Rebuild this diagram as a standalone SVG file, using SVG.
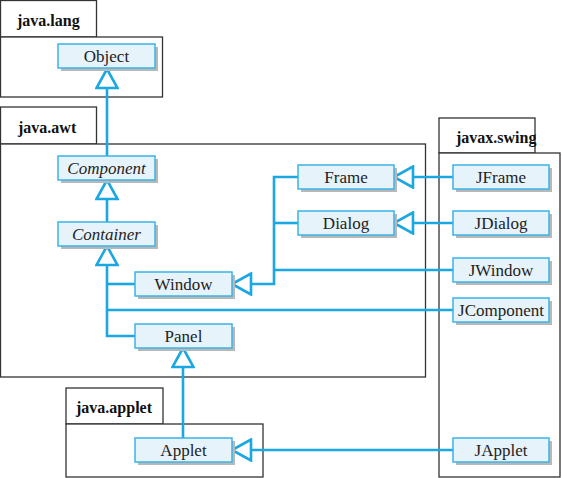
<svg xmlns="http://www.w3.org/2000/svg" width="562" height="478" viewBox="0 0 562 478">
<style>
.pkg{fill:#fff;stroke:#333;stroke-width:1.3}
.pl{font-family:"Liberation Serif","Times New Roman",Times,serif;font-weight:bold;font-size:16px;fill:#111}
.sh{fill:#b8b8b8}
.bx{fill:#e6f3fb;stroke:#3ab4e6;stroke-width:1.5}
.t{font-family:"Liberation Serif","Times New Roman",Times,serif;font-size:17px;fill:#222;text-anchor:middle}
.i{font-style:italic}
.c{fill:none;stroke:#1ba7e2;stroke-width:2.6}
</style>
<defs>
<marker id="tri" viewBox="0 0 22 24" refX="21" refY="12" markerWidth="22" markerHeight="24" markerUnits="userSpaceOnUse" orient="auto">
<path d="M21,12 L2,1.5 L2,22.5 Z" fill="#fff" stroke="#1ba7e2" stroke-width="2.6" stroke-linejoin="miter"/>
</marker>
</defs>
<g id="packages">
<g id="pkg-java-lang"><rect class="pkg" x="0.5" y="0.5" width="96" height="36.5"/><rect class="pkg" x="0.5" y="37" width="162" height="60"/><text class="pl" x="17" y="26">java.lang</text></g>
<g id="pkg-java-awt"><rect class="pkg" x="0.5" y="107" width="96" height="37"/><rect class="pkg" x="0.5" y="144" width="425" height="233"/><text class="pl" x="18" y="133">java.awt</text></g>
<g id="pkg-javax-swing"><rect class="pkg" x="439" y="118" width="96" height="35"/><rect class="pkg" x="439" y="153" width="121" height="324"/><text class="pl" x="456" y="143">javax.swing</text></g>
<g id="pkg-java-applet"><rect class="pkg" x="66" y="388" width="97" height="36"/><rect class="pkg" x="66" y="424" width="197" height="53"/><text class="pl" x="76" y="413">java.applet</text></g>
</g>
<g id="connectors">
<path class="c" d="M107,156 V69" marker-end="url(#tri)"/>
<path class="c" d="M107,222 V180" marker-end="url(#tri)"/>
<path class="c" d="M135,284 H107"/>
<path class="c" d="M453,310 H107"/>
<path class="c" d="M135,336 H107 V246" marker-end="url(#tri)"/>
<path class="c" d="M298,223 H274"/>
<path class="c" d="M453,270 H274"/>
<path class="c" d="M298,177 H274 V284 H232" marker-end="url(#tri)"/>
<path class="c" d="M453,177 H394" marker-end="url(#tri)"/>
<path class="c" d="M453,223 H394" marker-end="url(#tri)"/>
<path class="c" d="M183,438 V348" marker-end="url(#tri)"/>
<path class="c" d="M453,450 H232" marker-end="url(#tri)"/>
</g>
<g id="Object"><rect class="sh" x="61" y="47" width="97" height="24"/><rect class="bx" x="58" y="44" width="97" height="24"/><text class="t" x="106.5" y="62">Object</text></g>
<g id="Component"><rect class="sh" x="61" y="159" width="97" height="24"/><rect class="bx" x="58" y="156" width="97" height="24"/><text class="t i" x="106.5" y="174">Component</text></g>
<g id="Container"><rect class="sh" x="61" y="225" width="97" height="24"/><rect class="bx" x="58" y="222" width="97" height="24"/><text class="t i" x="106.5" y="240">Container</text></g>
<g id="Window"><rect class="sh" x="138" y="275" width="97" height="24"/><rect class="bx" x="135" y="272" width="97" height="24"/><text class="t" x="183.5" y="290">Window</text></g>
<g id="Panel"><rect class="sh" x="138" y="327" width="97" height="24"/><rect class="bx" x="135" y="324" width="97" height="24"/><text class="t" x="183.5" y="342">Panel</text></g>
<g id="Frame"><rect class="sh" x="301" y="168" width="96" height="24"/><rect class="bx" x="298" y="165" width="96" height="24"/><text class="t" x="346" y="183">Frame</text></g>
<g id="Dialog"><rect class="sh" x="301" y="214" width="96" height="24"/><rect class="bx" x="298" y="211" width="96" height="24"/><text class="t" x="346" y="229">Dialog</text></g>
<g id="JFrame"><rect class="sh" x="456" y="168" width="96" height="24"/><rect class="bx" x="453" y="165" width="96" height="24"/><text class="t" x="501" y="183">JFrame</text></g>
<g id="JDialog"><rect class="sh" x="456" y="214" width="96" height="24"/><rect class="bx" x="453" y="211" width="96" height="24"/><text class="t" x="501" y="229">JDialog</text></g>
<g id="JWindow"><rect class="sh" x="456" y="261" width="96" height="24"/><rect class="bx" x="453" y="258" width="96" height="24"/><text class="t" x="501" y="276">JWindow</text></g>
<g id="JComponent"><rect class="sh" x="456" y="301" width="96" height="24"/><rect class="bx" x="453" y="298" width="96" height="24"/><text class="t" x="501" y="316">JComponent</text></g>
<g id="Applet"><rect class="sh" x="138" y="441" width="97" height="24"/><rect class="bx" x="135" y="438" width="97" height="24"/><text class="t" x="183.5" y="456">Applet</text></g>
<g id="JApplet"><rect class="sh" x="456" y="441" width="96" height="24"/><rect class="bx" x="453" y="438" width="96" height="24"/><text class="t" x="501" y="456">JApplet</text></g>
</svg>
